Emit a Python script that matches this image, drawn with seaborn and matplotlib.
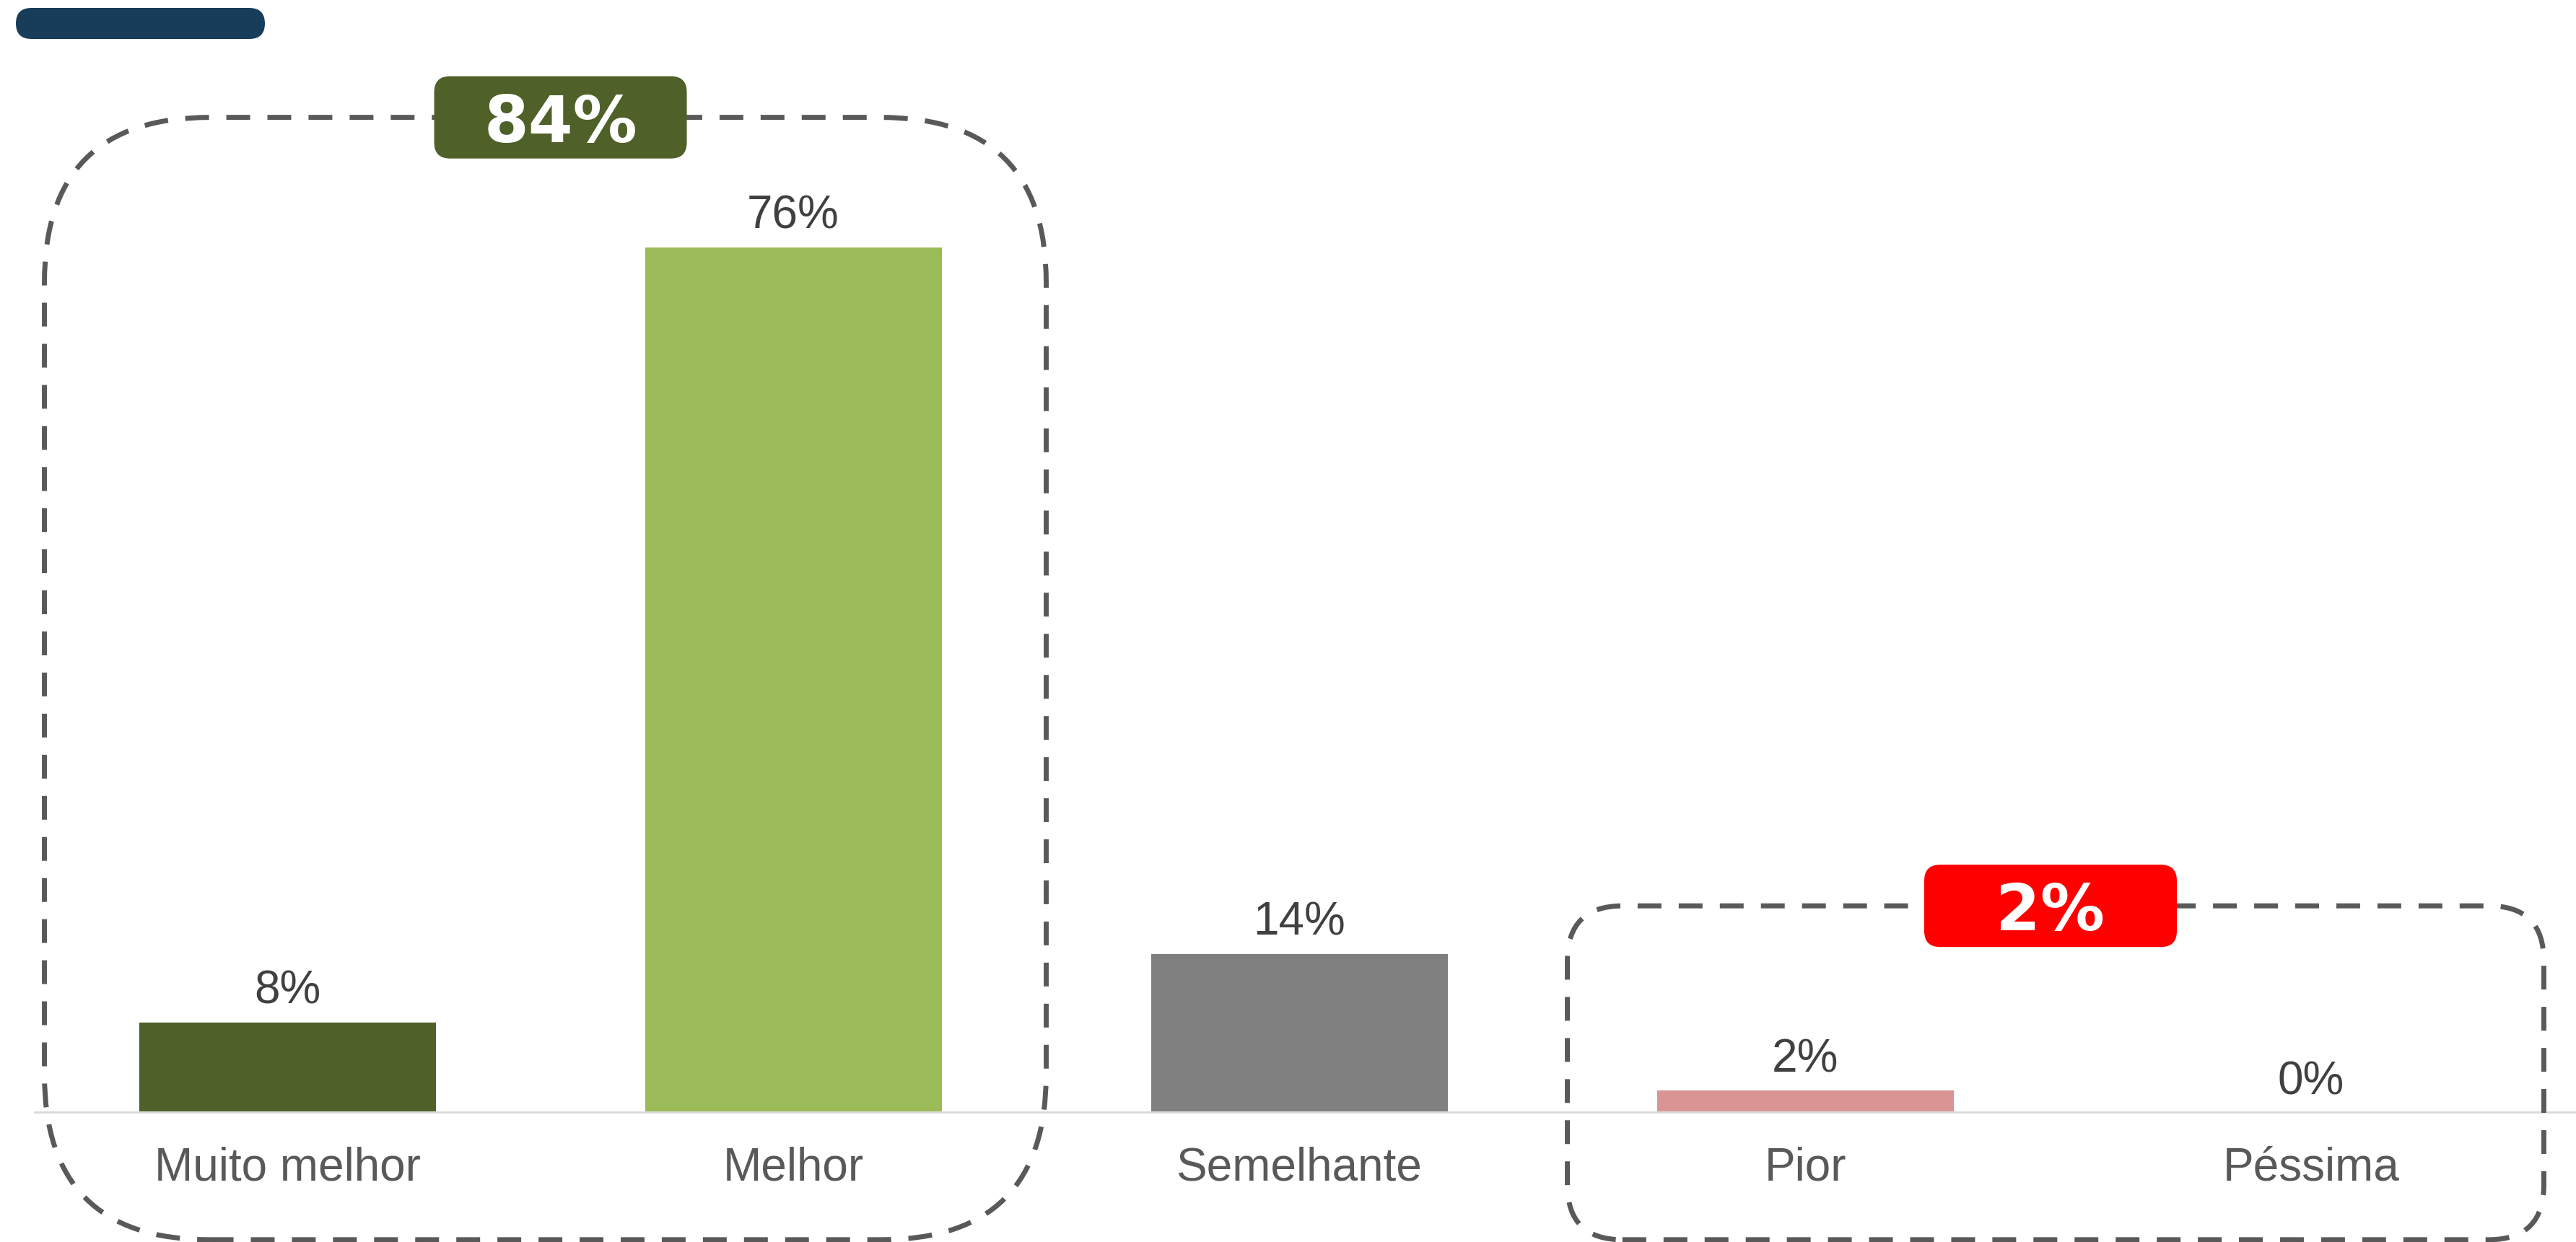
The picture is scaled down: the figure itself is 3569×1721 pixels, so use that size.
import pandas as pd
import seaborn as sns
from matplotlib import pyplot as plt
from matplotlib.patches import FancyBboxPatch

# data
categories = ["Muito melhor", "Melhor", "Semelhante", "Pior", "Péssima"]
values = [8, 76, 14, 2, 0]
bar_colors = ["#4F6128", "#9BBB59", "#808080", "#D99594", "#D99594"]
group_members = [[0, 1], [3, 4]]          # bars wrapped by each dashed box
group_totals = ["84%", "2%"]
group_colors = ["#4F6128", "#FF0000"]

# layout (not data)
box_tops = [87.3, 18.1]
box_bottom = -11.2
box_pads = [(0.48, 0.50), (0.47, 0.46)]
label_shift = [0.04, -0.015]

sns.set_theme(style="white")
plt.rcParams['font.family'] = ['Liberation Sans', 'DejaVu Sans']

df = pd.DataFrame({"cat": categories, "val": values})

fig = plt.figure(figsize=(3569 / 200, 1721 / 200), dpi=200)
ax = fig.add_axes([47.5 / 3569, 180 / 1721, (3569 - 47.5) / 3569, 1541 / 1721])

sns.barplot(data=df, x="cat", y="val", hue="cat", palette=bar_colors,
            width=0.59, saturation=1, legend=False, ax=ax)

for c in ax.containers:
    ax.bar_label(c, fmt="%.0f%%", padding=4, fontsize=23, color="#404040")

xmax = 4.5 + (3569 - 3552.5) / 701
ax.set_xlim(-0.5, xmax)
ax.set_ylim(0, 97.6)
ax.set_yticks([])
ax.set_xlabel("")
ax.set_ylabel("")
ax.tick_params(axis="x", length=0, pad=17, labelsize=23, labelcolor="#595959")
for s in ["left", "right", "top"]:
    ax.spines[s].set_visible(False)
ax.spines["bottom"].set_color("#D9D9D9")
ax.spines["bottom"].set_linewidth(1.0)

# aspect to keep rounded corners round in data coords
bbox = ax.get_position()
ax_w = bbox.width * 3569
ax_h = bbox.height * 1721
x_per_px = (xmax + 0.5) / ax_w
y_per_px = 97.6 / ax_h
aspect = y_per_px / x_per_px

for members, top, total, col, pads, shift in zip(group_members, box_tops, group_totals,
                                                  group_colors, box_pads, label_shift):
    x0 = min(members) - pads[0]
    x1 = max(members) + pads[1]
    w_px = (x1 - x0) / x_per_px
    h_px = (top - box_bottom) / y_per_px
    radius = 0.165 * min(w_px, h_px) * x_per_px
    box = FancyBboxPatch((x0, box_bottom), x1 - x0, top - box_bottom,
                         boxstyle="round,pad=0,rounding_size=%f" % radius,
                         mutation_aspect=aspect, fill=False, edgecolor="#595959",
                         linewidth=2.5, linestyle=(0, (4.75, 3.45)), clip_on=False, zorder=3)
    ax.add_patch(box)

    cx = (min(members) + max(members)) / 2 + shift
    lw_, lh_ = 350 * x_per_px, 114 * y_per_px
    lab = FancyBboxPatch((cx - lw_ / 2, top - lh_ / 2), lw_, lh_,
                         boxstyle="round,pad=0,rounding_size=%f" % (22 * x_per_px),
                         mutation_aspect=aspect, facecolor=col, edgecolor="none",
                         clip_on=False, zorder=4)
    ax.add_patch(lab)
    ax.text(cx, top, total, ha="center", va="center_baseline", fontsize=32,
            fontweight="bold", color="white", family="DejaVu Sans", zorder=5)

# dark blue pill in the top-left corner
fasp = (1 / 1721) / (1 / 3569)
pill = FancyBboxPatch((22 / 3569, (1721 - 54) / 1721), 345 / 3569, 43 / 1721,
                      boxstyle="round,pad=0,rounding_size=%f" % (21.5 / 3569),
                      mutation_aspect=fasp, facecolor="#173D5A", edgecolor="none",
                      transform=fig.transFigure)
fig.patches.append(pill)

plt.savefig("out.png", dpi=200)
